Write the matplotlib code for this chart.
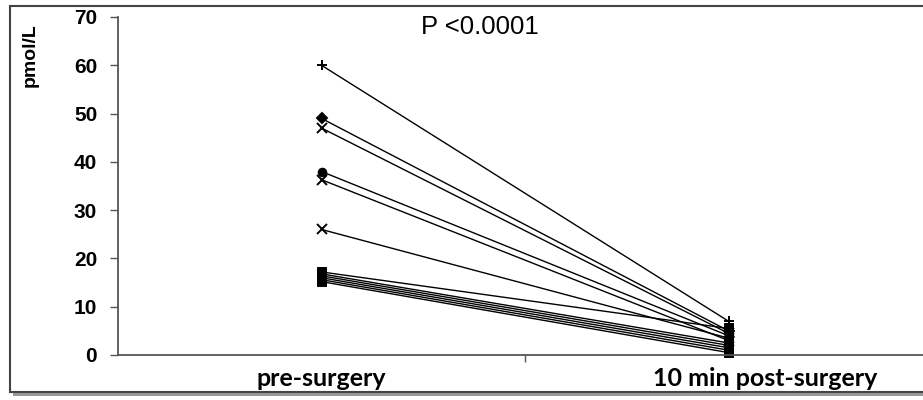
import matplotlib
matplotlib.use("Agg")
import matplotlib.pyplot as plt
import matplotlib.patches as mpatches
from matplotlib.transforms import ScaledTranslation

categories = ["pre-surgery", "10 min post-surgery"]
pre_values = [60, 49, 47, 38, 36.3, 26, 17.2, 16.8, 16.4, 16.0, 15.6, 15.2]
post_values = [7, 5, 4.5, 4, 3, 3.5, 5.5, 2.5, 2, 1.5, 1, 0.5]
markers = ["+", "D", "x", "o", "x", "x", "s", "s", "s", "s", "s", "s"]
yticks = [0, 10, 20, 30, 40, 50, 60, 70]
p_text = "P <0.0001"
y_label = "pmol/L"

fig = plt.figure(figsize=(9.23, 4.0), dpi=100)

# outer frame with shadow, as in the pasted Excel chart
shadow = mpatches.Rectangle((13 / 923, 1 - 396 / 400), 1.0, (396 - 9) / 400,
                            transform=fig.transFigure, facecolor="#9a9a9a",
                            edgecolor="none", zorder=0)
frame = mpatches.Rectangle((10 / 923, 1 - 392 / 400), 1.0, (392 - 6) / 400,
                           transform=fig.transFigure, facecolor="white",
                           edgecolor="#444444", lw=1.5, zorder=1)
fig.patches.extend([shadow, frame])

ax = fig.add_axes([118 / 923, 1 - 355 / 400, (932 - 118) / 923, (355 - 17) / 400])
ax.set_facecolor("none")
ax.set_zorder(2)

for pre, post, m in zip(pre_values, post_values, markers):
    ms = 6.5 if m in ("+", "x") else 5.5
    ax.plot([0, 1], [pre, post], color="black", lw=1.0, marker=m,
            markersize=ms, markeredgewidth=1.4, clip_on=False)

ax.set_xlim(-0.5, 1.5)
ax.set_ylim(0, 70)
ax.set_yticks(yticks)
ax.set_yticklabels([str(v) for v in yticks], fontsize=15, fontweight="bold",
                   family="Liberation Sans")
ax.tick_params(axis="y", direction="out", length=6, width=1, color="#555555", pad=9)

ax.set_xticks([0.5])
ax.set_xticklabels([""])
ax.tick_params(axis="x", which="major", direction="out", length=5, width=1, color="#555555")
ax.set_xticks([0, 1], minor=True)
ax.set_xticklabels(categories, minor=True, fontsize=18, fontweight="bold", family="Lato")
ax.tick_params(axis="x", which="minor", length=0, pad=9)
lbl = ax.get_xticklabels(minor=True)[1]
lbl.set_transform(lbl.get_transform() + ScaledTranslation(0.37, 0, fig.dpi_scale_trans))

for side in ("top", "right"):
    ax.spines[side].set_visible(False)
for side in ("left", "bottom"):
    ax.spines[side].set_color("#555555")
    ax.spines[side].set_linewidth(1.3)

ax.text(0.39, 67.9, p_text, fontsize=18.5, family="Liberation Sans",
        ha="center", va="center")
fig.text(30 / 923, 1 - 55 / 400, y_label, rotation=90, fontsize=14,
         fontweight="bold", family="Liberation Sans", ha="center", va="center")

fig.savefig("out.png", dpi=100)
